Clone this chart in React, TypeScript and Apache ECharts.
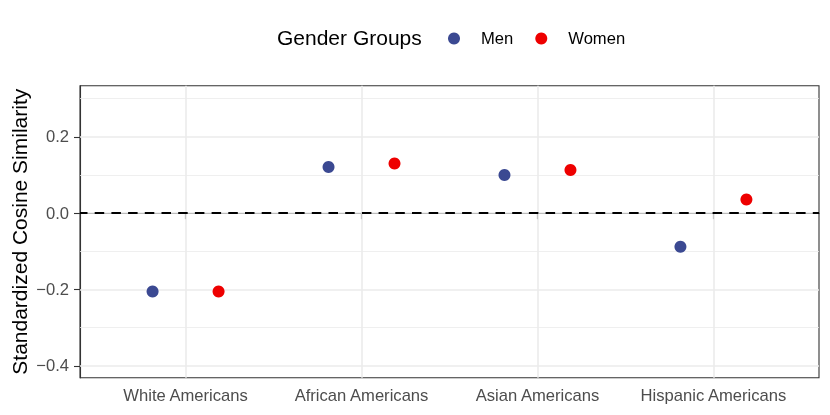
import React, { useEffect, useRef } from "react";
import * as echarts from "echarts";

const categories = ["White Americans", "African Americans", "Asian Americans", "Hispanic Americans"];
const groups = ["Men", "Women"];
const menValues = [-0.205, 0.121, 0.1, -0.088];
const womenValues = [-0.205, 0.13, 0.113, 0.036];
const yTicks = [-0.4, -0.2, 0, 0.2];
const yMinor = [-0.3, -0.1, 0.1, 0.3];
const xTicks = [1, 2, 3, 4];

const colors = ["#3B4992", "#EE0000"];
const FONT = "'Liberation Sans', Arial, Helvetica, sans-serif";
const DODGE = 0.1875;

function fmt(v: number) {
  const s = Math.abs(v).toFixed(1);
  return v < -1e-9 ? "\u2212" + s : s;
}

export default function App() {
  const ref = useRef<HTMLDivElement>(null);
  useEffect(() => {
    if (!ref.current) return;
    const chart = echarts.init(ref.current, undefined, { renderer: "svg" });
    const toData = (vals: number[], off: number) => vals.map((v, i) => [i + 1 + off, v]);
    chart.setOption({
      animation: false,
      textStyle: { fontFamily: FONT },
      grid: {
        left: 80,
        right: 11,
        top: 85.7,
        bottom: 37.3,
        show: true,
        borderColor: "#333333",
        borderWidth: 1.1,
        backgroundColor: "#FFFFFF",
        containLabel: false,
        outerBoundsMode: "none",
      },
      legend: {
        data: groups,
        left: 443,
        top: 25,
        icon: "circle",
        itemWidth: 12,
        itemHeight: 12,
        itemGap: 22,
        textStyle: { fontSize: 16.6, color: "#000000", fontFamily: FONT, padding: [0, 0, 0, 16] },
      },
      graphic: [
        {
          type: "text",
          left: 277,
          top: 27,
          style: { text: "Gender Groups", fontSize: 21, fill: "#000000", fontFamily: FONT },
        },
      ],
      xAxis: {
        type: "value",
        min: 0.4,
        max: 4.6,
        splitLine: { show: false },
        axisLine: { show: true, lineStyle: { color: "#333333", width: 1.1 } },
        axisTick: { show: true, customValues: xTicks, length: 6, lineStyle: { color: "#333333", width: 1.1 } },
        axisLabel: {
          customValues: xTicks,
          formatter: (v: number) => categories[Math.round(v) - 1] ?? "",
          fontSize: 16.6,
          color: "#4D4D4D",
          margin: 9,
          fontFamily: FONT,
        },
      },
      yAxis: {
        type: "value",
        min: -0.431,
        max: 0.334,
        name: "Standardized Cosine Similarity",
        nameLocation: "middle",
        nameRotate: 90,
        nameGap: 50,
        nameMoveOverlap: false,
        nameTextStyle: { fontSize: 21, color: "#000000", fontFamily: FONT },
        splitLine: { show: false },
        axisLine: { show: true, lineStyle: { color: "#333333", width: 1.1 } },
        axisTick: { show: true, customValues: yTicks, length: 6, lineStyle: { color: "#333333", width: 1.1 } },
        axisLabel: {
          customValues: yTicks,
          formatter: (v: number) => fmt(v),
          fontSize: 16.6,
          color: "#4D4D4D",
          margin: 11,
          fontFamily: FONT,
        },
      },
      series: [
        {
          type: "scatter",
          name: "grid",
          data: [],
          z: 1,
          silent: true,
          markLine: {
            silent: true,
            z: 1,
            symbol: ["none", "none"],
            label: { show: false },
            data: [
              ...yMinor.map((v) => ({ yAxis: v, lineStyle: { color: "#EBEBEB", width: 0.8, type: "solid" } })),
              ...yTicks.map((v) => ({ yAxis: v, lineStyle: { color: "#EBEBEB", width: 1.6, type: "solid" } })),
              ...xTicks.map((v) => ({ xAxis: v, lineStyle: { color: "#EBEBEB", width: 1.6, type: "solid" } })),
            ],
          },
        },
        {
          type: "scatter",
          name: "zero",
          data: [],
          z: 2,
          silent: true,
          markLine: {
            silent: true,
            z: 2,
            symbol: ["none", "none"],
            label: { show: false },
            data: [{ yAxis: 0, lineStyle: { color: "#000000", width: 2, type: [9.5, 7.2], dashOffset: 1.7 } }],
          },
        },
        {
          type: "scatter",
          name: "Men",
          data: toData(menValues, -DODGE),
          symbolSize: 12,
          itemStyle: { color: colors[0], opacity: 1 },
          z: 10,
        },
        {
          type: "scatter",
          name: "Women",
          data: toData(womenValues, DODGE),
          symbolSize: 12,
          itemStyle: { color: colors[1], opacity: 1 },
          z: 10,
        },
      ],
    });
    return () => chart.dispose();
  }, []);
  return <div ref={ref} style={{ position: "fixed", left: 0, top: 0, width: 830, height: 415 }} />;
}
